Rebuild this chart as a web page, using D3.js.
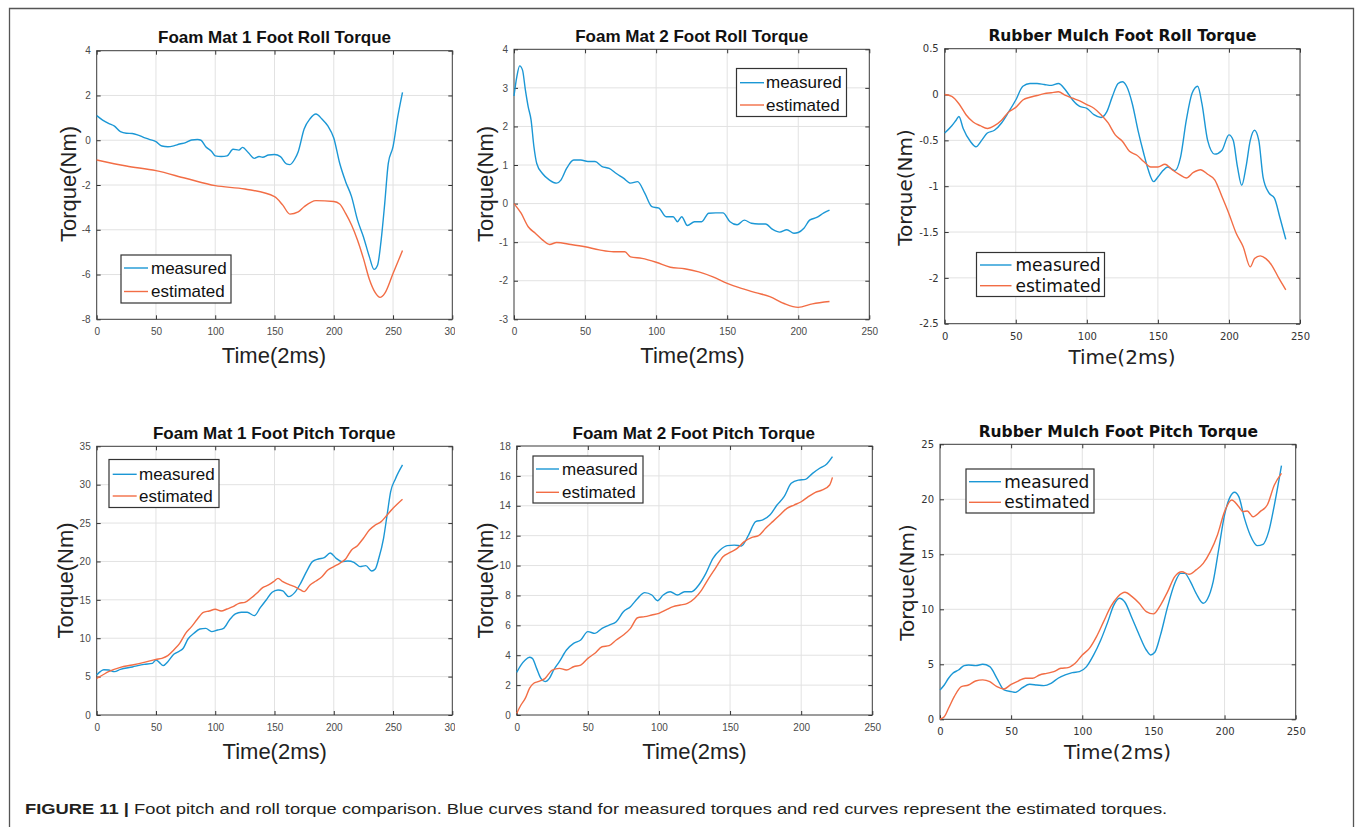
<!DOCTYPE html>
<html>
<head>
<meta charset="utf-8">
<script src="https://cdn.jsdelivr.net/npm/d3@7"></script>
<style>
  body { margin: 0; background: #fff; }
  svg { display: block; }
</style>
</head>
<body>
<div id="chart"></div>
<script>
// ---- data: [time (2ms), torque (Nm)] ----
const foam1RollMeasured = [[0,1.10],[5,0.9],[10,0.75],[15,0.63],[20,0.38],[25,0.31],[30,0.3],[35,0.23],[40,0.12],[45,0.03],[50,-0.06],[55,-0.26],[60,-0.29],[65,-0.25],[70,-0.17],[75,-0.11],[80,0.01],[85,0.03],[88,0],[92,-0.29],[97,-0.5],[100,-0.7],[105,-0.73],[110,-0.7],[115,-0.4],[120,-0.44],[123,-0.32],[128,-0.56],[133,-0.81],[137,-0.73],[140,-0.76],[145,-0.66],[150,-0.64],[155,-0.73],[160,-1.06],[163,-1.09],[167,-0.85],[170,-0.51],[175,0.5],[180,0.96],[185,1.17],[190,0.95],[195,0.64],[200,0.1],[205,-1.03],[210,-1.85],[215,-2.52],[220,-3.56],[225,-4.31],[230,-5.2],[234,-5.77],[237,-5.57],[240,-4.45],[243,-2.82],[246,-1.03],[250,-0.29],[254,1.05],[258,2.14]];
const foam1RollEstimated = [[0,-0.88],[25,-1.15],[50,-1.36],[75,-1.7],[100,-2.03],[125,-2.18],[150,-2.52],[157,-2.9],[163,-3.3],[170,-3.2],[175,-2.97],[185,-2.7],[200,-2.74],[205,-2.85],[210,-3.27],[215,-3.79],[220,-4.46],[225,-5.28],[230,-6.21],[235,-6.81],[239,-7.02],[243,-6.84],[250,-5.95],[258,-4.93]];

const foam2RollMeasured = [[0,2.79],[2,3.29],[4,3.57],[6,3.46],[8,2.95],[10,2.51],[12,2.17],[14,1.48],[16,1.04],[20,0.78],[25,0.61],[30,0.53],[33,0.61],[37,0.91],[42,1.13],[47,1.13],[52,1.09],[57,1.09],[62,0.96],[67,0.91],[72,0.78],[77,0.66],[82,0.53],[87,0.57],[92,0.27],[97,-0.08],[102,-0.12],[107,-0.34],[112,-0.34],[115,-0.47],[118,-0.34],[122,-0.57],[127,-0.47],[132,-0.47],[137,-0.25],[142,-0.24],[147,-0.24],[152,-0.47],[157,-0.55],[162,-0.43],[167,-0.51],[172,-0.53],[177,-0.53],[182,-0.67],[187,-0.74],[192,-0.68],[197,-0.77],[200,-0.75],[204,-0.64],[208,-0.43],[213,-0.36],[218,-0.24],[222,-0.17]];
const foam2RollEstimated = [[0,0],[5,-0.25],[10,-0.6],[15,-0.77],[20,-0.94],[25,-1.06],[30,-1.01],[40,-1.06],[50,-1.12],[60,-1.2],[70,-1.25],[78,-1.25],[82,-1.38],[90,-1.42],[100,-1.52],[110,-1.65],[120,-1.69],[130,-1.77],[140,-1.9],[150,-2.07],[160,-2.2],[170,-2.31],[180,-2.41],[190,-2.59],[200,-2.69],[210,-2.6],[222,-2.54]];

const mulchRollMeasured = [[0,-0.42],[5,-0.34],[8,-0.28],[10,-0.24],[13,-0.37],[18,-0.51],[22,-0.57],[26,-0.5],[30,-0.42],[35,-0.39],[40,-0.31],[45,-0.19],[50,-0.06],[55,0.09],[60,0.12],[65,0.12],[70,0.11],[75,0.1],[80,0.12],[85,0.05],[90,-0.06],[95,-0.13],[100,-0.15],[105,-0.22],[110,-0.25],[114,-0.19],[118,-0.02],[122,0.12],[125,0.14],[128,0.09],[132,-0.1],[136,-0.39],[140,-0.64],[143,-0.81],[147,-0.95],[150,-0.9],[153,-0.84],[157,-0.79],[162,-0.83],[166,-0.68],[170,-0.28],[174,0.01],[178,0.09],[181,-0.1],[185,-0.5],[190,-0.65],[195,-0.61],[200,-0.44],[203,-0.5],[206,-0.79],[209,-0.99],[212,-0.79],[215,-0.5],[218,-0.39],[221,-0.5],[224,-0.9],[228,-1.07],[232,-1.13],[236,-1.35],[240,-1.58]];
const mulchRollEstimated = [[0,0],[5,-0.02],[10,-0.1],[15,-0.22],[20,-0.3],[25,-0.34],[30,-0.37],[35,-0.34],[40,-0.28],[45,-0.19],[50,-0.14],[55,-0.06],[60,-0.03],[65,-0.01],[70,0.01],[75,0.02],[80,0.03],[85,-0.01],[90,-0.04],[95,-0.07],[100,-0.11],[105,-0.15],[110,-0.22],[115,-0.31],[120,-0.44],[125,-0.51],[130,-0.62],[135,-0.66],[140,-0.73],[145,-0.79],[150,-0.79],[155,-0.76],[160,-0.82],[165,-0.87],[170,-0.91],[175,-0.85],[180,-0.82],[185,-0.87],[190,-0.93],[195,-1.11],[200,-1.3],[205,-1.51],[210,-1.66],[215,-1.88],[218,-1.79],[222,-1.76],[226,-1.79],[230,-1.86],[235,-2.0],[240,-2.13]];

const foam1PitchMeasured = [[0,5.21],[3,5.65],[6,5.9],[10,5.86],[15,5.65],[20,5.95],[30,6.26],[40,6.6],[47,6.73],[50,7.17],[53,6.82],[56,6.43],[60,6.95],[65,7.9],[70,8.34],[73,8.69],[77,9.9],[82,10.64],[87,11.2],[92,11.29],[97,10.86],[102,11.07],[107,11.29],[112,12.38],[117,13.16],[122,13.38],[127,13.38],[133,12.94],[138,13.98],[143,14.98],[148,15.98],[153,16.29],[157,16.16],[162,15.42],[167,15.94],[172,17.15],[177,18.67],[182,19.98],[187,20.32],[192,20.5],[197,21.1],[202,20.41],[207,19.98],[212,20.06],[217,19.89],[222,19.33],[227,19.46],[232,18.76],[235,19.02],[238,20.41],[242,23.02],[245,26.06],[248,29.1],[252,30.75],[258,32.57]];
const foam1PitchEstimated = [[0,4.78],[5,5.21],[10,5.65],[20,6.21],[30,6.52],[40,6.86],[50,7.25],[55,7.38],[60,7.73],[65,8.47],[70,9.34],[75,10.64],[80,11.51],[85,12.51],[90,13.38],[95,13.55],[100,13.77],[105,13.55],[110,13.81],[115,14.11],[120,14.55],[125,14.68],[130,15.2],[135,15.85],[140,16.59],[145,16.94],[150,17.46],[153,17.8],[157,17.37],[162,17.02],[167,16.72],[172,16.29],[175,16.07],[180,16.94],[185,17.46],[190,18.02],[195,18.89],[200,19.33],[205,19.76],[210,20.32],[215,21.5],[220,22.06],[225,23.02],[230,24.1],[235,24.75],[240,25.19],[245,26.06],[250,26.92],[258,28.1]];

const foam2PitchMeasured = [[0,2.85],[3,3.34],[6,3.68],[9,3.86],[11,3.79],[14,3.12],[17,2.45],[20,2.23],[23,2.45],[26,3.01],[30,3.57],[35,4.35],[40,4.79],[45,5.02],[50,5.58],[55,5.46],[60,5.8],[65,6.02],[70,6.24],[75,6.91],[80,7.25],[85,7.8],[90,8.19],[95,8.03],[99,7.65],[103,8.03],[108,8.25],[113,8.03],[118,8.25],[123,8.25],[128,8.7],[133,9.48],[138,10.48],[143,11.04],[148,11.33],[153,11.37],[158,11.31],[163,12.04],[168,12.94],[173,13.05],[178,13.38],[183,14.05],[188,14.61],[193,15.5],[198,15.72],[203,15.77],[208,16.17],[213,16.51],[218,16.8],[222,17.29]];
const foam2PitchEstimated = [[0,0.11],[3,0.67],[6,1.11],[9,1.78],[12,2.12],[15,2.23],[20,2.45],[25,3.01],[30,3.12],[35,3.01],[40,3.23],[45,3.34],[50,3.79],[55,4.13],[60,4.57],[65,4.64],[70,5.02],[75,5.35],[80,5.8],[85,6.51],[90,6.58],[95,6.69],[100,6.8],[105,7.03],[110,7.25],[115,7.36],[120,7.47],[125,7.8],[130,8.36],[135,9.14],[140,9.86],[145,10.59],[150,10.88],[155,11.15],[160,11.6],[165,11.87],[170,12.0],[175,12.49],[180,12.94],[185,13.38],[190,13.83],[195,14.05],[200,14.27],[205,14.61],[210,14.9],[215,15.06],[220,15.39],[222,15.9]];

const mulchPitchMeasured = [[0,2.67],[3,3.12],[6,3.73],[9,4.18],[13,4.48],[17,4.88],[20,4.94],[25,4.88],[30,5.0],[35,4.79],[40,3.73],[45,2.67],[50,2.52],[53,2.45],[58,2.88],[63,3.18],[68,3.12],[73,3.06],[78,3.27],[83,3.73],[88,4.03],[93,4.24],[98,4.33],[103,4.79],[108,5.85],[113,7.21],[118,8.88],[122,10.33],[126,11.0],[130,10.64],[135,9.18],[140,7.67],[145,6.3],[148,5.85],[151,6.09],[155,7.67],[160,10.24],[165,12.36],[169,13.27],[172,13.27],[176,12.52],[180,11.45],[185,10.55],[188,10.94],[192,12.52],[196,15.55],[200,18.58],[204,20.24],[207,20.64],[210,20.24],[214,18.27],[218,16.76],[223,15.79],[227,15.91],[231,17.06],[235,19.48],[240,23.06]];
const mulchPitchEstimated = [[0,0.03],[3,0.24],[6,1.0],[10,2.06],[15,2.97],[20,3.12],[25,3.48],[30,3.58],[35,3.42],[40,2.97],[45,2.76],[50,3.18],[55,3.48],[60,3.73],[65,3.73],[70,4.03],[75,4.18],[80,4.33],[85,4.64],[90,4.7],[95,5.09],[100,5.85],[105,6.45],[110,7.52],[115,8.88],[120,10.24],[125,11.15],[130,11.55],[135,11.15],[140,10.55],[145,9.79],[150,9.58],[155,10.39],[160,11.61],[165,12.97],[170,13.42],[175,13.18],[180,13.58],[185,14.18],[190,15.24],[195,16.76],[200,18.88],[205,19.94],[210,19.33],[213,18.88],[216,18.94],[220,18.42],[225,18.88],[230,19.48],[235,21.3],[240,22.36]];

// tick values
const xTicks300 = [0, 50, 100, 150, 200, 250, 300];
const xTicks250 = [0, 50, 100, 150, 200, 250];
const foam1RollYTicks = [-8, -6, -4, -2, 0, 2, 4];
const foam2RollYTicks = [-3, -2, -1, 0, 1, 2, 3, 4];
const mulchRollYTicks = [-2.5, -2, -1.5, -1, -0.5, 0, 0.5];
const foam1PitchYTicks = [0, 5, 10, 15, 20, 25, 30, 35];
const foam2PitchYTicks = [0, 2, 4, 6, 8, 10, 12, 14, 16, 18];
const mulchPitchYTicks = [0, 5, 10, 15, 20, 25];

const seriesNames = ["measured", "estimated"];
const captionBold = "FIGURE 11 | ";
const captionText = "Foot pitch and roll torque comparison. Blue curves stand for measured torques and red curves represent the estimated torques.";

const colors = ["#1b97d5", "#f26d45"];
const ARIAL = "'Liberation Sans', Arial, sans-serif";
const DEJAVU = "'DejaVu Sans', sans-serif";

const panels = [
  { title: "Foam Mat 1 Foot Roll Torque", series: [foam1RollMeasured, foam1RollEstimated],
    xDom: [0, 300], yDom: [-8, 4], xTicks: xTicks300, yTicks: foam1RollYTicks,
    l: 96.7, r: 452.3, t: 50.7, b: 319.3, font: ARIAL, titleSize: 17, titleX: 274.5, titleY: 43,
    yLab: [68, 184], xLab: [274, 355], clipR: 455,
    leg: { x: 121, y: 255, w: 110, h: 48, l0: 124, l1: 148, tx: 151, rows: [268, 291.5] } },
  { title: "Foam Mat 2 Foot Roll Torque", series: [foam2RollMeasured, foam2RollEstimated],
    xDom: [0, 250], yDom: [-3, 4], xTicks: xTicks250, yTicks: foam2RollYTicks,
    l: 514, r: 869.3, t: 49.3, b: 319.3, font: ARIAL, titleSize: 17, titleX: 691.7, titleY: 42,
    yLab: [485.5, 184], xLab: [692.5, 355],
    leg: { x: 736.5, y: 68.5, w: 110, h: 48, l0: 740, l1: 764, tx: 766, rows: [82.7, 105] } },
  { title: "Rubber Mulch Foot Roll Torque", series: [mulchRollMeasured, mulchRollEstimated],
    xDom: [0, 250], yDom: [-2.5, 0.5], xTicks: xTicks250, yTicks: mulchRollYTicks,
    l: 944.7, r: 1300, t: 48.7, b: 323.7, font: DEJAVU, titleSize: 15.5, titleX: 1122.5, titleY: 41,
    yLab: [905, 187.5], xLab: [1122, 356.5],
    leg: { x: 976.5, y: 252.5, w: 128, h: 44, l0: 980, l1: 1011.5, tx: 1015.5, rows: [265, 285.7] } },
  { title: "Foam Mat 1 Foot Pitch Torque", series: [foam1PitchMeasured, foam1PitchEstimated],
    xDom: [0, 300], yDom: [0, 35], xTicks: xTicks300, yTicks: foam1PitchYTicks,
    l: 96.7, r: 452.3, t: 446.3, b: 715, font: ARIAL, titleSize: 17, titleX: 274.2, titleY: 438.5,
    yLab: [65, 580.5], xLab: [274.7, 751], clipR: 455,
    leg: { x: 109, y: 459.5, w: 110, h: 48, l0: 112.7, l1: 136.7, tx: 139, rows: [474.3, 496] } },
  { title: "Foam Mat 2 Foot Pitch Torque", series: [foam2PitchMeasured, foam2PitchEstimated],
    xDom: [0, 250], yDom: [0, 18], xTicks: xTicks250, yTicks: foam2PitchYTicks,
    l: 516.7, r: 872.3, t: 446, b: 715, font: ARIAL, titleSize: 17, titleX: 693.8, titleY: 438.5,
    yLab: [485.5, 580.5], xLab: [694.5, 751.5],
    leg: { x: 533, y: 456, w: 110, h: 47, l0: 536, l1: 559, tx: 562, rows: [469, 492.3] } },
  { title: "Rubber Mulch Foot Pitch Torque", series: [mulchPitchMeasured, mulchPitchEstimated],
    xDom: [0, 250], yDom: [0, 25], xTicks: xTicks250, yTicks: mulchPitchYTicks,
    l: 940, r: 1295.7, t: 444.3, b: 719.3, font: DEJAVU, titleSize: 15.5, titleX: 1118.3, titleY: 437,
    yLab: [907, 582.5], xLab: [1117.5, 752.3],
    leg: { x: 966, y: 469, w: 128, h: 44, l0: 969, l1: 1001, tx: 1004.3, rows: [481.7, 502.3] } }
];

const svg = d3.select("#chart").append("svg")
  .attr("width", 1355)
  .attr("height", 827);

svg.append("rect").attr("width", 1355).attr("height", 827).attr("fill", "#fff");

// outer figure frame
svg.append("path")
  .attr("d", "M9.5,840 V8.5 H1353.5 V840")
  .attr("fill", "none")
  .attr("stroke", "#555")
  .attr("stroke-width", 1.3);

const defs = svg.append("defs");

panels.forEach(function(p, i) {
  let g = svg.append("g");
  if (p.clipR) {
    defs.append("clipPath").attr("id", "clip" + i)
      .append("rect").attr("x", 0).attr("y", 0).attr("width", p.clipR).attr("height", 827);
    g.attr("clip-path", "url(#clip" + i + ")");
  }

  let x = d3.scaleLinear().domain(p.xDom).range([p.l, p.r]);
  let y = d3.scaleLinear().domain(p.yDom).range([p.b, p.t]);
  let tickColor = p.font === DEJAVU ? "#333" : "#4a4a4a";

  // grid
  g.append("g").selectAll("line")
    .data(p.xTicks.slice(1, -1))
    .enter().append("line")
    .attr("x1", d => x(d)).attr("x2", d => x(d))
    .attr("y1", p.t).attr("y2", p.b)
    .attr("stroke", "#e2e2e2").attr("stroke-width", 1);
  g.append("g").selectAll("line")
    .data(p.yTicks.slice(1, -1))
    .enter().append("line")
    .attr("x1", p.l).attr("x2", p.r)
    .attr("y1", d => y(d)).attr("y2", d => y(d))
    .attr("stroke", "#e2e2e2").attr("stroke-width", 1);

  // axes with inward ticks
  let fmt = d => String(d);
  let xAxis = g.append("g").attr("transform", "translate(0," + p.b + ")")
    .call(d3.axisBottom(x).tickValues(p.xTicks).tickFormat(fmt).tickSize(-4).tickPadding(9));
  let yAxis = g.append("g").attr("transform", "translate(" + p.l + ",0)")
    .call(d3.axisLeft(y).tickValues(p.yTicks).tickFormat(fmt).tickSize(-4).tickPadding(6));
  g.append("g").attr("transform", "translate(0," + p.t + ")")
    .call(d3.axisTop(x).tickValues(p.xTicks).tickFormat("").tickSize(-4));
  g.append("g").attr("transform", "translate(" + p.r + ",0)")
    .call(d3.axisRight(y).tickValues(p.yTicks).tickFormat("").tickSize(-4));
  g.selectAll(".domain").remove();
  g.selectAll(".tick line").attr("stroke", "#333");
  [xAxis, yAxis].forEach(function(a) {
    a.selectAll("text")
      .style("font-family", p.font)
      .style("font-size", "10px")
      .attr("fill", tickColor);
  });

  // box
  g.append("rect")
    .attr("x", p.l).attr("y", p.t)
    .attr("width", p.r - p.l).attr("height", p.b - p.t)
    .attr("fill", "none")
    .attr("stroke", "#3a3a3a")
    .attr("stroke-width", 1);

  // curves
  let line = d3.line()
    .x(d => x(d[0]))
    .y(d => y(d[1]))
    .curve(d3.curveMonotoneX);
  p.series.forEach(function(s, k) {
    g.append("path")
      .datum(s)
      .attr("d", line)
      .attr("fill", "none")
      .attr("stroke", colors[k])
      .attr("stroke-width", 1.4)
      .attr("stroke-linejoin", "round");
  });

  // title
  g.append("text")
    .text(p.title)
    .attr("x", p.titleX).attr("y", p.titleY)
    .attr("text-anchor", "middle")
    .style("font-family", p.font)
    .style("font-weight", "bold")
    .style("font-size", p.titleSize + "px")
    .attr("fill", "#111");

  // axis labels
  let labSize = p.font === DEJAVU ? 20 : 22;
  g.append("text")
    .text("Torque(Nm)")
    .attr("transform", "translate(" + p.yLab[0] + "," + p.yLab[1] + ") rotate(-90)")
    .attr("text-anchor", "middle")
    .attr("dominant-baseline", "central")
    .style("font-family", p.font)
    .style("font-size", labSize + "px")
    .attr("fill", "#222");
  g.append("text")
    .text("Time(2ms)")
    .attr("x", p.xLab[0]).attr("y", p.xLab[1])
    .attr("text-anchor", "middle")
    .attr("dominant-baseline", "central")
    .style("font-family", p.font)
    .style("font-size", labSize + "px")
    .attr("fill", "#222");

  // legend
  let lg = g.append("g");
  lg.append("rect")
    .attr("x", p.leg.x).attr("y", p.leg.y)
    .attr("width", p.leg.w).attr("height", p.leg.h)
    .attr("fill", "#fff")
    .attr("stroke", "#333")
    .attr("stroke-width", 1.2);
  seriesNames.forEach(function(name, k) {
    lg.append("line")
      .attr("x1", p.leg.l0).attr("x2", p.leg.l1)
      .attr("y1", p.leg.rows[k]).attr("y2", p.leg.rows[k])
      .attr("stroke", colors[k])
      .attr("stroke-width", 1.4);
    lg.append("text")
      .text(name)
      .attr("x", p.leg.tx).attr("y", p.leg.rows[k])
      .attr("dominant-baseline", "central")
      .style("font-family", p.font)
      .style("font-size", "17px")
      .attr("fill", "#111");
  });
});

// caption, squeezed horizontally like the condensed print face
let cap = svg.append("text")
  .style("font-family", ARIAL)
  .style("font-size", "15.5px")
  .attr("fill", "#231f20");
cap.append("tspan").text(captionBold).style("font-weight", "bold");
cap.append("tspan").text(captionText);
let capW = cap.node().getComputedTextLength();
cap.attr("transform", "translate(25,814) scale(" + (1143 / capW) + ",1)");
</script>
</body>
</html>
